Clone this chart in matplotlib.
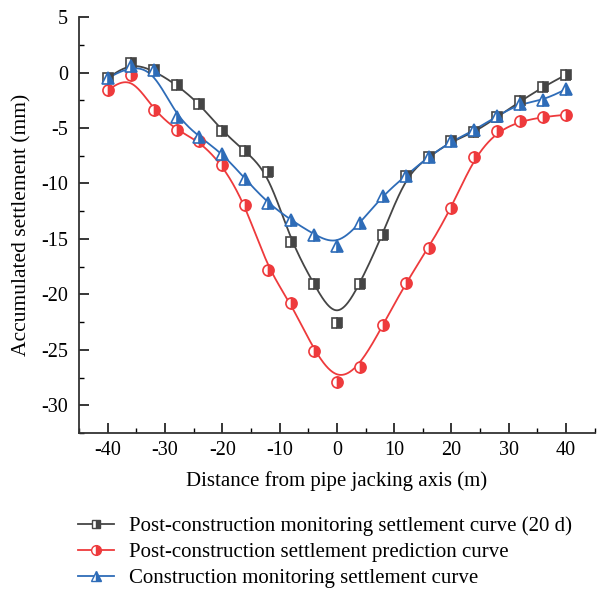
import matplotlib.pyplot as plt
import numpy as np
from matplotlib.ticker import MultipleLocator

plt.rcParams['font.family'] = ['Liberation Serif', 'DejaVu Serif']
plt.rcParams['axes.unicode_minus'] = False

# distance from the pipe jacking axis (m)
distance = [-40, -36, -32, -28, -24, -20, -16, -12, -8, -4, 0,
            4, 8, 12, 16, 20, 24, 28, 32, 36, 40]

# accumulated settlement (mm)
post_monitor_20d = [-0.5, 0.9, 0.2, -1.1, -2.8, -5.3, -7.1, -9.0, -15.3, -19.1, -22.6,
                    -19.1, -14.6, -9.3, -7.6, -6.2, -5.4, -4.0, -2.6, -1.3, -0.2]
post_prediction = [-1.6, -0.2, -3.4, -5.2, -6.2, -8.3, -11.9, -17.8, -20.8, -25.1, -27.9,
                   -26.5, -22.8, -19.0, -15.8, -12.2, -7.6, -5.3, -4.4, -4.0, -3.8]
construction_monitor = [-0.5, 0.6, 0.2, -4.0, -5.8, -7.3, -9.6, -11.8, -13.3, -14.6, -15.6,
                        -13.6, -11.1, -9.3, -7.6, -6.2, -5.2, -3.9, -2.8, -2.5, -1.5]

labels = ['Post-construction monitoring settlement curve (20 d)',
          'Post-construction settlement prediction curve',
          'Construction monitoring settlement curve']
colors = ['#454545', '#ee3a3c', '#2e6cb8']
markers = ['s', 'o', '^']


def bspline(x, y, n=40):
    # uniform cubic B-spline using the points as control points, clamped at both ends
    p = np.column_stack([x, y]).astype(float)
    p = np.vstack([p[0], p[0], p, p[-1], p[-1]])
    out = []
    for i in range(len(p) - 3):
        t = np.linspace(0, 1, n)[:, None]
        b0 = (1 - t) ** 3 / 6
        b1 = (3 * t ** 3 - 6 * t ** 2 + 4) / 6
        b2 = (-3 * t ** 3 + 3 * t ** 2 + 3 * t + 1) / 6
        b3 = t ** 3 / 6
        out.append(b0 * p[i] + b1 * p[i + 1] + b2 * p[i + 2] + b3 * p[i + 3])
    out = np.vstack(out)
    return out[:, 0], out[:, 1]


fig = plt.figure(figsize=(6.0, 5.9), dpi=100)
ax = fig.add_axes([0.132, 0.266, 0.859, 0.705])

handles = []
for ys, c, m, lab in zip([post_monitor_20d, post_prediction, construction_monitor],
                         colors, markers, labels):
    sx, sy = bspline(distance, ys)
    ax.plot(sx, sy, color=c, lw=1.3, zorder=2)
    ax.plot(distance, ys, ls='none', marker=m, ms=8 if m != 's' else 6.5,
            mfc=c, mec=c, mfcalt='white', fillstyle='right', mew=1.2, zorder=3)
    h, = ax.plot([], [], color=c, lw=1.3, marker=m, ms=7 if m != 's' else 6,
                 mfc=c, mec=c, mfcalt='white', fillstyle='right', mew=1.0)
    handles.append(h)

ax.set_xlim(-45, 45)
ax.set_ylim(-32.5, 5)
ax.xaxis.set_major_locator(MultipleLocator(10))
ax.xaxis.set_minor_locator(MultipleLocator(5))
ax.yaxis.set_major_locator(MultipleLocator(5))
ax.yaxis.set_minor_locator(MultipleLocator(2.5))
ax.set_xticks(range(-40, 41, 10))
ax.tick_params(which='major', direction='in', length=7, width=1.1, labelsize=14.5)
ax.tick_params(axis='x', which='major', pad=6)
ax.tick_params(axis='y', which='major', pad=8)
ax.tick_params(which='minor', direction='in', length=3.5, width=1.0)
ax.tick_params(axis='x', which='both', top=False)
ax.tick_params(axis='y', which='both', right=False)
for s in ['top', 'right']:
    ax.spines[s].set_visible(False)
for s in ['left', 'bottom']:
    ax.spines[s].set_linewidth(1.3)
    ax.spines[s].set_color('#333333')

ax.set_xlabel('Distance from pipe jacking axis (m)', fontsize=15, labelpad=8)
ax.set_ylabel('Accumulated settlement (mm)', fontsize=15.5, labelpad=7)

fig.legend(handles, labels, loc='upper left', bbox_to_anchor=(0.112, 0.142),
           frameon=False, fontsize=15, handlelength=1.75, handletextpad=0.7,
           labelspacing=0.3, borderpad=0)

fig.savefig('out.png', dpi=100)
